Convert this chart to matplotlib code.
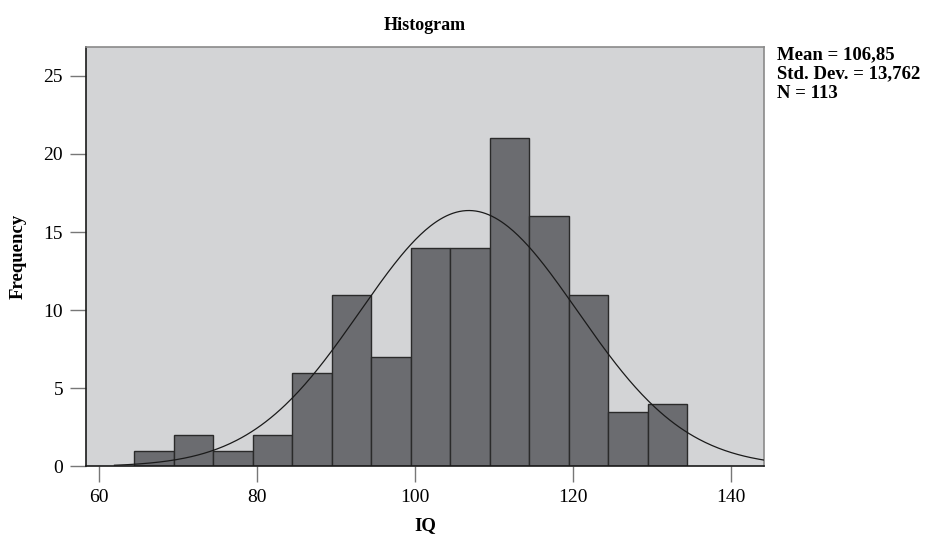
import numpy as np
import matplotlib.pyplot as plt

# histogram bins (IQ), width 5
bin_left = [64.5, 69.5, 74.5, 79.5, 84.5, 89.5, 94.5, 99.5, 104.5, 109.5, 114.5, 119.5, 124.5, 129.5]
counts = [1, 2, 1, 2, 6, 11, 7, 14, 14, 21, 16, 11, 3.5, 4]
bin_width = 5

mean_iq = 106.85
sd_iq = 13.762
n_obs = 113

x_ticks = [60, 80, 100, 120, 140]
y_ticks = [0, 5, 10, 15, 20, 25]

plt.rcParams['font.family'] = ['Liberation Serif', 'DejaVu Serif']

fig = plt.figure(figsize=(9.39, 5.42), dpi=100)
ax = fig.add_axes([0.0916, 0.1393, 0.7220, 0.7745])
ax.set_facecolor('#d3d4d6')

ax.bar(bin_left, counts, width=bin_width, align='edge',
       color='#6b6c70', edgecolor='#2a2a2a', linewidth=1.0, zorder=2)

# normal curve scaled to counts
xs = np.linspace(62, 144.2, 400)
ys = n_obs * bin_width / (sd_iq * np.sqrt(2 * np.pi)) * np.exp(-0.5 * ((xs - mean_iq) / sd_iq) ** 2)
ax.plot(xs, ys, color='#1a1a1a', linewidth=0.9, zorder=3)

ax.set_xlim(58.4, 144.2)
ax.set_ylim(0, 26.86)
ax.set_xticks(x_ticks)
ax.set_yticks(y_ticks)
ax.tick_params(axis='both', direction='out', length=11.5, width=1.0,
               color='#777777', labelsize=14, pad=5)

for side in ['left', 'bottom']:
    ax.spines[side].set_color('#1a1a1a')
    ax.spines[side].set_linewidth(1.2)
for side in ['top', 'right']:
    ax.spines[side].set_color('#8a8a8a')
    ax.spines[side].set_linewidth(1.2)

ax.set_title('Histogram', fontsize=13, fontweight='bold', pad=12)
ax.set_xlabel('IQ', fontsize=13.5, fontweight='bold', labelpad=8)
ax.set_ylabel('Frequency', fontsize=13.5, fontweight='bold', labelpad=12)

fig.text(0.8275, 0.915, 'Mean = 106,85\nStd. Dev. = 13,762\nN = 113',
         fontsize=13.5, fontweight='bold', va='top', ha='left', linespacing=1.2)

fig.savefig('out.png', dpi=100)
